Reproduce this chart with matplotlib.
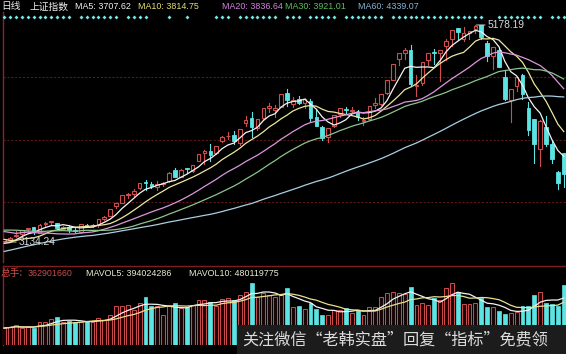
import numpy as np
import pandas as pd
import matplotlib
matplotlib.use('Agg')
import matplotlib.pyplot as plt
from matplotlib.patches import Rectangle
from matplotlib.transforms import blended_transform_factory

plt.rcParams['font.family'] = ['Liberation Sans', 'Noto Sans CJK SC', 'DejaVu Sans']

# ---------------- data ----------------
# closes before the visible window (needed for the moving averages)
prior_closes = [2456, 2450, 2452, 2487, 2532, 2567, 2604, 2630, 2683,
                2680, 2763, 2779, 2899, 2938, 3020, 2856, 2940, 2925, 2938, 2953, 3021, 3062, 3058,
                3108, 3128, 3032, 2977, 3073, 3157, 3168, 3166, 3235,
                3351, 3352, 3374, 3294, 3285, 3229, 3224, 3222, 3336, 3376, 3116, 3173, 3323, 3343,
                3351, 3383, 3352, 3305, 3263, 3210,
                3128, 3204, 3175, 3137, 3076, 3095, 3142]

opens = [3145, 3157, 3186, 3209, 3253, 3276, 3223, 3303, 3318, 3317,
         3259, 3277, 3249, 3230, 3296, 3289, 3292, 3351, 3379, 3470,
         3504, 3578, 3584, 3640, 3696, 3685, 3651, 3683, 3710, 3810,
         3748, 3828, 3803, 3899, 3970, 3995, 3972, 4085, 4132, 4141,
         4067, 4254, 4302, 4212, 4305, 4400, 4380, 4410, 4539, 4433,
         4483, 4441, 4466, 4311, 4217, 4122, 4231, 4339, 4389, 4366,
         4360, 4270, 4288, 4423, 4438, 4535, 4660, 4854, 4919, 4943,
         4603, 4634, 4844, 4924, 4912, 4981, 5045, 5147, 5049, 5101,
         5143, 5174, 5004, 4890, 4942, 4689, 4471, 4604, 4711, 4399,
         4289, 4006, 4214, 4058, 3794, 3975]
highs = [3166, 3181, 3237, 3248, 3269, 3279, 3299, 3324, 3336, 3317,
         3286, 3290, 3263, 3304, 3306, 3299, 3355, 3377, 3449, 3503,
         3577, 3600, 3632, 3689, 3715, 3695, 3704, 3703, 3795, 3835,
         3817, 3835, 3864, 3961, 4000, 4059, 4034, 4129, 4168, 4175,
         4195, 4317, 4356, 4293, 4398, 4444, 4421, 4529, 4572, 4499,
         4507, 4489, 4480, 4375, 4231, 4205, 4333, 4401, 4402, 4405,
         4375, 4314, 4418, 4490, 4530, 4658, 4814, 4911, 4958, 4987,
         4708, 4829, 4911, 4950, 4947, 5051, 5131, 5147, 5164, 5122,
         5178.19, 5177, 5029, 4968, 4966, 4744, 4577, 4691, 4720, 4456,
         4297, 4287, 4317, 4081, 3807, 3975]
lows = [3134.24, 3144, 3180, 3197, 3241, 3214, 3215, 3282, 3298, 3260,
        3250, 3232, 3228, 3220, 3281, 3276, 3275, 3341, 3375, 3450,
        3500, 3553, 3568, 3629, 3627, 3640, 3622, 3657, 3703, 3742,
        3743, 3788, 3795, 3899, 3865, 3893, 3964, 4073, 4106, 4060,
        4050, 4227, 4125, 4185, 4286, 4358, 4313, 4410, 4414, 4402,
        4431, 4394, 4278, 4227, 4098, 4073, 4213, 4315, 4350, 4356,
        4285, 4240, 4285, 4401, 4425, 4531, 4660, 4800, 4857, 4599,
        4509, 4616, 4797, 4811, 4647, 4850, 4977, 5035, 5032, 5050,
        5103, 5048, 4842, 4767, 4780, 4476, 4264, 4552, 4483, 4139,
        3875, 3847, 4043, 3874, 3629, 3653]
closes = [3158, 3173, 3203, 3247, 3269, 3228, 3298, 3310, 3336, 3263,
          3280, 3248, 3241, 3302, 3286, 3291, 3349, 3372, 3449, 3502,
          3577, 3583, 3617, 3688, 3691, 3661, 3683, 3691, 3787, 3748,
          3811, 3825, 3864, 3961, 3995, 3957, 4034, 4121, 4135, 4084,
          4194, 4287, 4217, 4293, 4398, 4414, 4393, 4527, 4476, 4476,
          4441, 4480, 4298, 4229, 4112, 4205, 4333, 4401, 4376, 4378,
          4309, 4284, 4418, 4446, 4530, 4658, 4813, 4911, 4942, 4620,
          4612, 4829, 4910, 4910, 4947, 5023, 5131, 5114, 5106, 5121,
          5166, 5063, 4887, 4967, 4785, 4478, 4576, 4691, 4527, 4193,
          4053, 4277, 4053, 3913, 3687, 3776]
# volume, millions of lots
volumes = [170, 180, 200, 170, 180, 170, 230, 230, 260, 280,
           230, 240, 230, 230, 240, 230, 270, 250, 300, 390,
           390, 400, 350, 420, 480, 390, 390, 300, 390, 420,
           370, 380, 400, 450, 450, 430, 390, 460, 470, 450,
           500, 530, 620, 480, 520, 500, 480, 500, 570, 380,
           390, 360, 420, 360, 300, 300, 350, 350, 370, 320,
           350, 300, 380, 380, 480, 520, 530, 520, 510, 580,
           400, 420, 400, 470, 450, 570, 620, 530, 410, 410,
           420, 470, 380, 380, 340, 310, 320, 330, 390, 390,
           500, 530, 420, 410, 390, 600]
# bars marked by the row of dots at the top
info_flags = [1]*12 + [0] + [1]*7 + [0] + [1]*4 + [0]*3 + [1] + [0]*2 + [1] + [0]*4 + \
             [1]*3 + [0] + [1]*7 + [0] + [1]*3 + [0] + [1]*5 + [0] + [1]*7 + [0] + [1]*16 + \
             [0]*2 + [1]*8 + [0] + [1]*3

header_ma = [("MA5: 3707.62", '#f2f2f2', 75), ("MA10: 3814.75", '#e6df74', 138),
             ("MA20: 3836.64", '#d483e0', 222), ("MA30: 3921.01", '#5cbf5c', 285),
             ("MA60: 4339.07", '#86b6d6', 358)]
ma_periods = [5, 10, 20, 30, 60]
ma_colors = ['#f4f4f4', '#ece6a0', '#dc96dc', '#8cc48c', '#a8cfe2']

# ---------------- layout ----------------
W, H = 566, 354
fig = plt.figure(figsize=(W / 100, H / 100), dpi=100, facecolor='black')

def rect(x0, y0, x1, y1):
    return [x0 / W, 1 - y1 / H, (x1 - x0) / W, (y1 - y0) / H]

def ftext(x, y, s, **kw):
    return fig.text(x / W, 1 - y / H, s, va='center', ha='left', **kw)

n = len(closes)
idx = np.arange(n)
step = 5.89
xl = (-0.2, -0.2 + 563 / step)

axp = fig.add_axes(rect(3, 12, 566, 262))
axv = fig.add_axes(rect(3, 266, 566, 345))
pscale = 9.42
ptop = 5178.19 + 13 * pscale
pbot = 5178.19 - 237 * pscale
for ax in (axp, axv):
    ax.set_facecolor('black')
    ax.set_xlim(*xl)
    ax.set_xticks([])
    ax.set_yticks([])
    for s in ax.spines.values():
        s.set_visible(False)
    ax.spines['left'].set_visible(True)
    ax.spines['left'].set_color('#8a2424')
    ax.spines['left'].set_linewidth(1.0)
axv.spines['top'].set_visible(True)
axv.spines['top'].set_color('#7a2020')
axv.spines['top'].set_linewidth(1.0)
axp.set_ylim(pbot, ptop)
axv.set_ylim(0, 790)

UP = '#cf4d4d'
DN = '#5ce4e4'

# grid lines
for lvl in (4690, 4095, 3510):
    axp.axhline(lvl, color='#5c1818', lw=0.8, ls=(0, (2, 1.5)), zorder=1)

# candles
bw = 0.62
for i in range(n):
    o, h, l, c = opens[i], highs[i], lows[i], closes[i]
    if c >= o:
        axp.plot([i, i], [c, h], color=UP, lw=0.8, zorder=3)
        axp.plot([i, i], [l, o], color=UP, lw=0.8, zorder=3)
        axp.add_patch(Rectangle((i - bw / 2, o), bw, max(c - o, 3), facecolor='black',
                                edgecolor=UP, lw=0.8, zorder=3))
    else:
        axp.plot([i, i], [l, h], color=DN, lw=0.8, zorder=3)
        axp.add_patch(Rectangle((i - bw / 2, c), bw, o - c, facecolor=DN,
                                edgecolor=DN, lw=0.6, zorder=3))

# moving averages
allc = pd.Series(prior_closes + closes, dtype=float)
for p, col in zip(ma_periods, ma_colors):
    ma = allc.rolling(p).mean().to_numpy()[-n:]
    axp.plot(idx, ma, color=col, lw=0.9, zorder=4)

# high / low labels
imax = int(np.argmax(highs))
imin = int(np.argmin(lows))
axp.annotate(f"{highs[imax]:.2f}", xy=(imax + 0.2, highs[imax]), xytext=(imax + 2.1, highs[imax]),
             color='#d8d8d8', fontsize=7.4, va='center', ha='left',
             arrowprops=dict(arrowstyle='-', color='#d8d8d8', lw=0.7, shrinkA=0, shrinkB=0), zorder=6)
axp.annotate(f"{lows[imin]:.2f}", xy=(imin + 0.2, lows[imin]), xytext=(imin + 2.5, lows[imin]),
             color='#d8d8d8', fontsize=7.4, va='center', ha='left',
             arrowprops=dict(arrowstyle='-', color='#d8d8d8', lw=0.7, shrinkA=0, shrinkB=0), zorder=6)

# dot row
tr = blended_transform_factory(axp.transData, axp.transAxes)
fx = [i for i in range(n) if info_flags[i]]
axp.scatter(fx, [0.98] * len(fx), transform=tr, marker='D', s=4, color='#74e6e6',
            linewidths=0, clip_on=False, zorder=6)

# volume bars
vw = 0.66
for i in range(n):
    if closes[i] >= opens[i]:
        axv.add_patch(Rectangle((i - vw / 2, 0), vw, volumes[i], facecolor='#1a0606',
                                edgecolor=UP, lw=0.7, zorder=3))
    else:
        axv.add_patch(Rectangle((i - vw / 2, 0), vw, volumes[i], facecolor=DN,
                                edgecolor=DN, lw=0.5, zorder=3))
vs = pd.Series(volumes, dtype=float)
axv.plot(idx, vs.rolling(5, min_periods=1).mean(), color='#f2f2f2', lw=0.9, zorder=4)
axv.plot(idx, vs.rolling(10, min_periods=1).mean(), color='#e8e090', lw=0.9, zorder=4)

# header texts
cjk = ['Noto Sans CJK SC', 'DejaVu Sans']
ftext(1, 6.5, "日线", color='#ececec', fontsize=7, family=cjk)
ftext(30, 6.5, "上证指数", color='#ececec', fontsize=7, family=cjk)
for s, col, x in header_ma:
    ftext(x, 6.5, s, color=col, fontsize=6.4)

ftext(0.5, 273, "总手:", color='#cc4a4a', fontsize=7, family=cjk)
ftext(28, 273, "362901660", color='#cc4a4a', fontsize=6.4)
ftext(86, 273, "MAVOL5: 394024286", color='#ecebd6', fontsize=6.4)
ftext(189, 273, "MAVOL10: 480119775", color='#ecebd6', fontsize=6.4)

# watermark
fig.add_artist(Rectangle((237 / W, 0), (W - 237) / W, 29 / H, transform=fig.transFigure,
                         facecolor='#1c1c1c', edgecolor='none', zorder=10))
fig.text(242 / W, 1 - 340 / H, "关注微信“老韩实盘”回复“指标”免费领", color='#dcdcdc',
         fontsize=11.6, va='center', ha='left', family=cjk, zorder=11)

fig.savefig('out.png', dpi=100, facecolor='black')
